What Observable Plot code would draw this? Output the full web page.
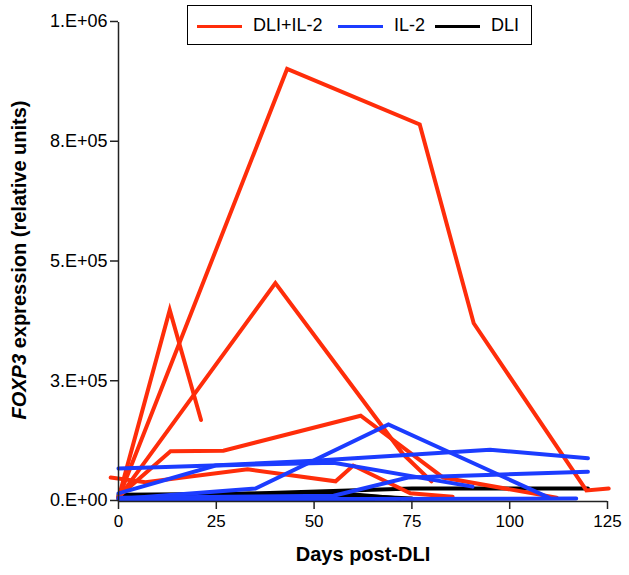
<!DOCTYPE html>
<html>
<head>
<meta charset="utf-8">
<script src="https://cdn.jsdelivr.net/npm/d3@7"></script>
<script src="https://cdn.jsdelivr.net/npm/@observablehq/plot@0.6"></script>
<style>
  body { margin: 0; background: #fff; font-family: "Liberation Sans", Arial, sans-serif; }
  #wrap { position: relative; width: 629px; height: 575px; }
  #legend { position: absolute; left: 187px; top: 5px; width: 343px; height: 38px; border: 1.5px solid #000; background: #fff; font-size: 18px; }
  #legend .sw { position: absolute; top: 19px; height: 2.5px; width: 45px; }
  #legend .lb { position: absolute; top: 8px; line-height: 22px; white-space: nowrap; }
</style>
</head>
<body>
<div id="wrap"></div>
<script>
// Groups and colours
const groups = ["DLI+IL-2", "IL-2", "DLI"];
const groupColors = ["#ff2d0a", "#1c3cff", "#000000"];

// X / Y ticks
const xTicks = [0, 25, 50, 75, 100, 125];
const yTicks = [0, 250000, 500000, 750000, 1000000];
const yTickLabels = ["0.E+00", "3.E+05", "5.E+05", "8.E+05", "1.E+06"];

// DLI+IL-2 patients: [day, FOXP3]
const redA = [[0, 5000], [43.1, 901000], [77, 785000], [90.8, 370000], [119.6, 21000], [125.3, 25000]];
const redB = [[0, 5000], [13.1, 398000], [21.1, 168000]];
const redC = [[0, 5000], [40.1, 454000], [72.6, 98000], [80, 40000]];
const redD = [[0, 8000], [13.3, 103000], [26.8, 104000], [61.9, 177000], [83, 48000], [112, 6000]];
const redE = [[-2, 48000], [6.9, 38000], [33, 65000], [55.5, 40000], [60, 73000], [74.6, 15000], [85.4, 8000]];

// IL-2 patients
const blueF = [[0, 67000], [24, 73000], [50, 83000], [95, 106000], [120, 88000]];
const blueG = [[0, 15000], [24.8, 73000], [55, 79000], [90.5, 29000]];
const blueH = [[0, 3000], [35, 25000], [69, 159000], [110, 6000]];
const blueI = [[0, 6000], [55, 10000], [74, 48000], [120, 60000]];
const blueJ = [[0, 2000], [60, 3000], [117, 4000]];

// DLI patients
const blackK = [[0, 6000], [75, 25000], [120, 25000]];
const blackL = [[0, 12000], [35, 14000], [60, 10000], [75, 4000]];
const blackM = [[0, 9000], [55, 16000], [72, 4000]];

const lines = [
  ["DLI", blackK], ["DLI", blackL], ["DLI", blackM],
  ["DLI+IL-2", redA], ["DLI+IL-2", redB], ["DLI+IL-2", redC], ["DLI+IL-2", redD], ["DLI+IL-2", redE],
  ["IL-2", blueF], ["IL-2", blueG], ["IL-2", blueH], ["IL-2", blueI], ["IL-2", blueJ]
];
const data = lines.flatMap(([g, pts], i) => pts.map(([d, v]) => ({id: i, group: g, day: d, value: v})));

const chart = Plot.plot({
  width: 629,
  height: 575,
  marginLeft: 118,
  marginRight: 22,
  marginTop: 21,
  marginBottom: 75,
  style: {fontFamily: "Liberation Sans, Arial, sans-serif", background: "#fff", color: "#000"},
  x: {domain: [0, 125]},
  y: {domain: [0, 1000000]},
  color: {domain: groups, range: groupColors},
  marks: [
    Plot.line(data, {x: "day", y: "value", z: "id", stroke: "group", strokeWidth: 4, strokeLinejoin: "miter", strokeMiterlimit: 4}),
    Plot.ruleX([0], {y1: 0, y2: 1000000, stroke: "#222", strokeWidth: 1.5, dy: 1}),
    Plot.ruleY([0], {x1: 0, x2: 125, stroke: "#222", strokeWidth: 1.5, dy: 1}),
    Plot.axisY({ticks: yTicks, tickFormat: (d, i) => yTickLabels[yTicks.indexOf(d)], tickSize: 8, tickPadding: 3, fontSize: 18, stroke: "#222", strokeWidth: 1.5, label: null}),
    Plot.axisX({ticks: xTicks, tickFormat: d => String(d), tickSize: 8, tickPadding: 5, fontSize: 17, stroke: "#222", strokeWidth: 1.5, label: null, dy: 1}),
    Plot.text(["Days post-DLI"], {frameAnchor: "bottom", dy: 60, fontSize: 20, fontWeight: "bold"}),
  ]
});

// Rotated y title with italic FOXP3
const svg = d3.select(chart);
const t = svg.append("text")
  .attr("transform", "translate(26,260) rotate(-90)")
  .attr("text-anchor", "middle")
  .attr("font-size", 20)
  .attr("font-weight", "bold")
  .attr("fill", "#000");
t.append("tspan").attr("font-style", "italic").text("FOXP3");
t.append("tspan").text(" expression (relative units)");

const wrap = document.getElementById("wrap");
wrap.appendChild(chart);

// Legend
const legend = document.createElement("div");
legend.id = "legend";
const legendItems = [
  {g: groups[0], c: groupColors[0], sx: 9, tx: 65},
  {g: groups[1], c: groupColors[1], sx: 150, tx: 206},
  {g: groups[2], c: groupColors[2], sx: 247, tx: 303}
];
for (const it of legendItems) {
  const sw = document.createElement("div");
  sw.className = "sw"; sw.style.left = it.sx + "px"; sw.style.background = it.c;
  const lb = document.createElement("div");
  lb.className = "lb"; lb.style.left = it.tx + "px"; lb.textContent = it.g;
  legend.appendChild(sw); legend.appendChild(lb);
}
wrap.appendChild(legend);
</script>
</body>
</html>
